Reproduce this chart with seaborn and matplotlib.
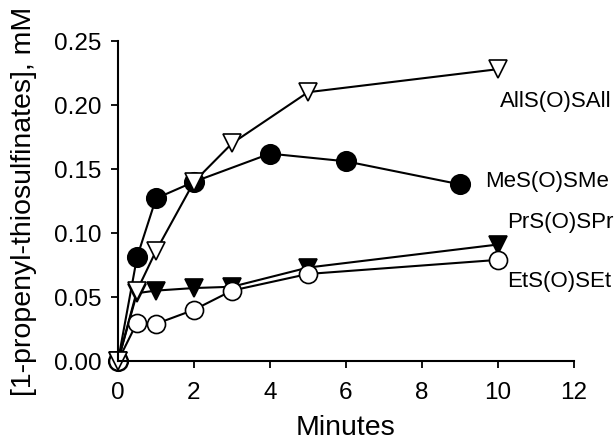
import matplotlib
matplotlib.use("Agg")
import matplotlib.pyplot as plt
import seaborn as sns
from matplotlib.ticker import FormatStrFormatter

# data
minutes_me = [0, 0.5, 1, 2, 4, 6, 9]
mes_osme = [0.0, 0.081, 0.127, 0.140, 0.162, 0.156, 0.138]

minutes = [0, 0.5, 1, 2, 3, 5, 10]
alls_osall = [0.0, 0.055, 0.086, 0.140, 0.170, 0.210, 0.228]
prs_ospr = [0.0, 0.053, 0.055, 0.057, 0.058, 0.073, 0.091]
ets_oset = [0.0, 0.030, 0.029, 0.040, 0.055, 0.068, 0.079]

labels = ["AllS(O)SAll", "MeS(O)SMe", "PrS(O)SPr", "EtS(O)SEt"]
label_x = [10.05, 9.66, 10.25, 10.25]
label_y = [0.203, 0.140, 0.1085, 0.062]

sns.set_style("ticks")
plt.rcParams["font.family"] = ["Liberation Sans", "DejaVu Sans"]
plt.rcParams["text.color"] = "black"
plt.rcParams["axes.labelcolor"] = "black"
plt.rcParams["xtick.color"] = "black"
plt.rcParams["ytick.color"] = "black"

fig = plt.figure(figsize=(6.16, 4.43), dpi=100)
ax = fig.add_axes([118 / 616, 1 - 361 / 443, 456 / 616, 320 / 443])

common = dict(color="black", linewidth=1.5, markeredgecolor="black",
              markeredgewidth=1.2, clip_on=False, ax=ax)

sns.lineplot(x=minutes_me, y=mes_osme, marker="o", markersize=14,
             markerfacecolor="black", **common)
sns.lineplot(x=minutes, y=prs_ospr, marker="v", markersize=13,
             markerfacecolor="black", **common)
sns.lineplot(x=minutes, y=ets_oset, marker="o", markersize=13,
             markerfacecolor="white", **common)
sns.lineplot(x=minutes, y=alls_osall, marker="v", markersize=13,
             markerfacecolor="white", **common)

for lab, lx, ly in zip(labels, label_x, label_y):
    ax.text(lx, ly, lab, fontsize=16, va="center", ha="left", clip_on=False)

ax.set_xlim(0, 12)
ax.set_ylim(0, 0.25)
ax.set_xticks(range(0, 13, 2))
ax.set_yticks([0, 0.05, 0.10, 0.15, 0.20, 0.25])
ax.yaxis.set_major_formatter(FormatStrFormatter("%.2f"))
ax.tick_params(direction="out", length=5, width=1.3, labelsize=17.5)
ax.tick_params(axis="x", pad=10)
ax.tick_params(axis="y", pad=7)

for side in ["top", "right"]:
    ax.spines[side].set_visible(False)
for side in ["left", "bottom"]:
    ax.spines[side].set_linewidth(1.5)
    ax.spines[side].set_color("black")

ax.set_xlabel("Minutes", fontsize=20.5, labelpad=8)
ax.set_ylabel("[1-propenyl-thiosulfinates], mM", fontsize=20.5, labelpad=12)

fig.savefig("out.png", dpi=100)
